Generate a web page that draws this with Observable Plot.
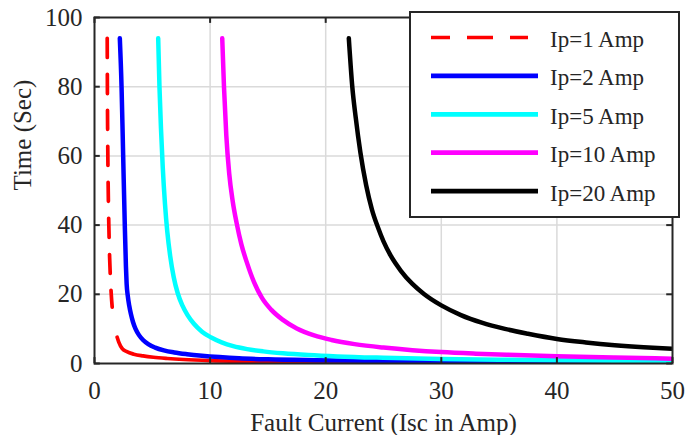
<!DOCTYPE html>
<html>
<head>
<meta charset="utf-8">
<script src="https://cdn.jsdelivr.net/npm/d3@7"></script>
<script src="https://cdn.jsdelivr.net/npm/@observablehq/plot@0.6"></script>
<style>
  body { margin: 0; background: #fff; }
  #chart { position: relative; width: 686px; height: 435px; font-family: "Liberation Serif", "Times New Roman", serif; }
  #legend { position: absolute; left: 409px; top: 11px; width: 267px; height: 203px; background: #fff; border: 2px solid #262626; }
</style>
</head>
<body>
<div id="chart"><div id="legend"></div></div>
<script>
// Axis ticks
const xTicks = [0, 10, 20, 30, 40, 50];
const yTicks = [0, 20, 40, 60, 80, 100];

// Series labels and colours
const seriesNames = ["Ip=1 Amp", "Ip=2 Amp", "Ip=5 Amp", "Ip=10 Amp", "Ip=20 Amp"];
const seriesColors = ["#ff0000", "#0000ff", "#00ffff", "#ff00ff", "#000000"];

// Ip = 1 A: steep dashed branch and low-time tail
const ip1CurrentUpper = [1.10, 1.115, 1.135, 1.16, 1.20, 1.25, 1.31, 1.38, 1.45, 1.53];
const ip1TimeUpper    = [94, 80, 68, 58, 47, 38.5, 30.5, 24.5, 20, 16.3];
const ip1CurrentLower = [1.96, 2.1, 2.4, 2.8, 3.4, 4.2, 5.1, 6.3, 7.7, 10, 13, 17, 22, 30, 40, 50];
const ip1TimeLower    = [7.6, 6.2, 4.3, 3.4, 2.7, 2.2, 1.8, 1.45, 1.15, 0.85, 0.65, 0.5, 0.4, 0.3, 0.25, 0.2];

// Ip = 2 A
const ip2Current = [2.19, 2.34, 2.48, 2.62, 2.72, 2.78, 2.88, 3.0, 3.15, 3.33, 3.55, 3.85, 4.2, 4.65, 5.25, 6.0, 6.9, 8.0, 9.3, 10.8, 12.5, 15, 19, 25, 32, 40, 50];
const ip2Time    = [94, 80, 60, 40, 28, 23, 19.5, 16.8, 14.3, 12.0, 10.0, 8.2, 6.8, 5.6, 4.6, 3.8, 3.2, 2.7, 2.25, 1.85, 1.5, 1.2, 0.95, 0.75, 0.6, 0.5, 0.42];

// Ip = 5 A
const ip5Current = [5.51, 5.62, 5.75, 5.9, 6.1, 6.3, 6.55, 6.85, 7.2, 7.6, 8.05, 8.6, 9.3, 10.1, 11, 12, 13.2, 14.6, 16.3, 18.5, 21, 25, 30, 35, 40, 45, 50];
const ip5Time    = [94, 80, 68, 57, 46, 38, 31, 25, 20.3, 16.8, 14, 11.5, 9.2, 7.5, 6.1, 5.0, 4.15, 3.5, 2.95, 2.45, 2.05, 1.65, 1.3, 1.1, 0.95, 0.82, 0.72];

// Ip = 10 A
const ip10Current = [11.05, 11.2, 11.4, 11.65, 11.95, 12.3, 12.7, 13.2, 13.8, 14.5, 15.3, 16.3, 17.5, 19, 20.5, 22.5, 25, 27.5, 30, 33, 36.5, 40, 45, 50];
const ip10Time    = [94, 80, 66, 55, 47, 40.5, 34.5, 29, 23.5, 18.9, 15.5, 12.6, 10.1, 8.1, 6.8, 5.6, 4.6, 3.85, 3.3, 2.85, 2.45, 2.1, 1.7, 1.4];

// Ip = 20 A
const ip20Current = [22.0, 22.3, 22.6, 23.0, 23.5, 24.0, 24.5, 25.0, 25.6, 26.5, 27.5, 28.5, 30, 31.7, 33.5, 35.5, 37.5, 40, 42.5, 45, 47.5, 50];
const ip20Time    = [94, 80, 71, 61, 51.5, 44.5, 39.5, 35.3, 31.3, 26.8, 23, 20.1, 16.8, 14, 11.8, 10, 8.6, 7.1, 6.1, 5.3, 4.7, 4.25];

const rows = (xs, ts) => xs.map((x, i) => ({current: x, time: ts[i]}));

const curve = (data, color, width, dash) => Plot.line(data, {
  x: "current", y: "time",
  stroke: color, strokeWidth: width, strokeDasharray: dash,
  curve: "monotone-x", strokeLinejoin: "round", clip: true
});

const serif = "'Liberation Serif', 'Times New Roman', serif";
const axisInk = "#262626";
const gridInk = "#dadada";

const plot = Plot.plot({
  width: 686,
  height: 435,
  marginLeft: 94,
  marginRight: 14,
  marginTop: 17,
  marginBottom: 72,
  style: {fontFamily: serif, fontSize: "25px", color: axisInk, background: "#fff"},
  x: {domain: [0, 50], axis: null},
  y: {domain: [0, 100], axis: null},
  marks: [
    Plot.ruleX(xTicks.slice(1, -1), {stroke: gridInk, strokeWidth: 1.5}),
    Plot.ruleY(yTicks.slice(1, -1), {stroke: gridInk, strokeWidth: 1.5}),
    curve(rows(ip1CurrentUpper, ip1TimeUpper), seriesColors[0], 3.7, "19,17"),
    curve(rows(ip1CurrentLower, ip1TimeLower), seriesColors[0], 3.7, null),
    curve(rows(ip2Current, ip2Time), seriesColors[1], 4.5, null),
    curve(rows(ip5Current, ip5Time), seriesColors[2], 4.5, null),
    curve(rows(ip10Current, ip10Time), seriesColors[3], 4.5, null),
    curve(rows(ip20Current, ip20Time), seriesColors[4], 4.5, null),
    Plot.frame({stroke: axisInk, strokeWidth: 2}),
    // inward tick marks on all four sides
    Plot.ruleY(yTicks, {y: d => d, x1: 0, x2: 0.5, stroke: axisInk, strokeWidth: 2}),
    Plot.ruleY(yTicks, {y: d => d, x1: 49.5, x2: 50, stroke: axisInk, strokeWidth: 2}),
    Plot.ruleX(xTicks, {x: d => d, y1: 0, y2: 1.7, stroke: axisInk, strokeWidth: 2}),
    Plot.ruleX(xTicks, {x: d => d, y1: 98.3, y2: 100, stroke: axisInk, strokeWidth: 2}),
    // tick labels
    Plot.text(xTicks, {x: d => d, text: d => String(d), frameAnchor: "bottom", lineAnchor: "top", dy: 18, fontSize: 25, fontFamily: serif, fill: axisInk}),
    Plot.text(yTicks, {y: d => d, text: d => String(d), frameAnchor: "left", textAnchor: "end", lineAnchor: "middle", dx: -12, fontSize: 25, fontFamily: serif, fill: axisInk}),
    // axis titles
    Plot.text(["Fault Current (Isc in Amp)"], {text: d => d, frameAnchor: "bottom", dy: 67, lineAnchor: "bottom", fontSize: 25, fontFamily: serif, fill: axisInk}),
    Plot.text(["Time (Sec)"], {text: d => d, frameAnchor: "left", dx: -72, rotate: -90, lineAnchor: "middle", fontSize: 25, fontFamily: serif, fill: axisInk})
  ]
});

const chart = document.getElementById("chart");
chart.insertBefore(plot, chart.firstChild);

// Legend box drawn over the upper right of the axes
const legendDash = ["19,17,26,17,18", null, null, null, null];
const legendWidth = [3.7, 4.7, 4.7, 4.7, 4.7];
const lg = d3.select("#legend").append("svg")
  .attr("width", 267).attr("height", 203)
  .style("display", "block");
const entry = lg.selectAll("g").data(seriesNames).join("g")
  .attr("transform", (d, i) => `translate(0,${24.5 + i * 38.4})`);
entry.append("line")
  .attr("x1", 20).attr("x2", 127).attr("y1", 0).attr("y2", 0)
  .attr("stroke", (d, i) => seriesColors[i])
  .attr("stroke-width", (d, i) => legendWidth[i])
  .attr("stroke-dasharray", (d, i) => legendDash[i]);
entry.append("text")
  .attr("x", 139).attr("y", 9.4)
  .attr("font-family", serif)
  .attr("font-size", 23)
  .attr("fill", axisInk)
  .text(d => d);
</script>
</body>
</html>
